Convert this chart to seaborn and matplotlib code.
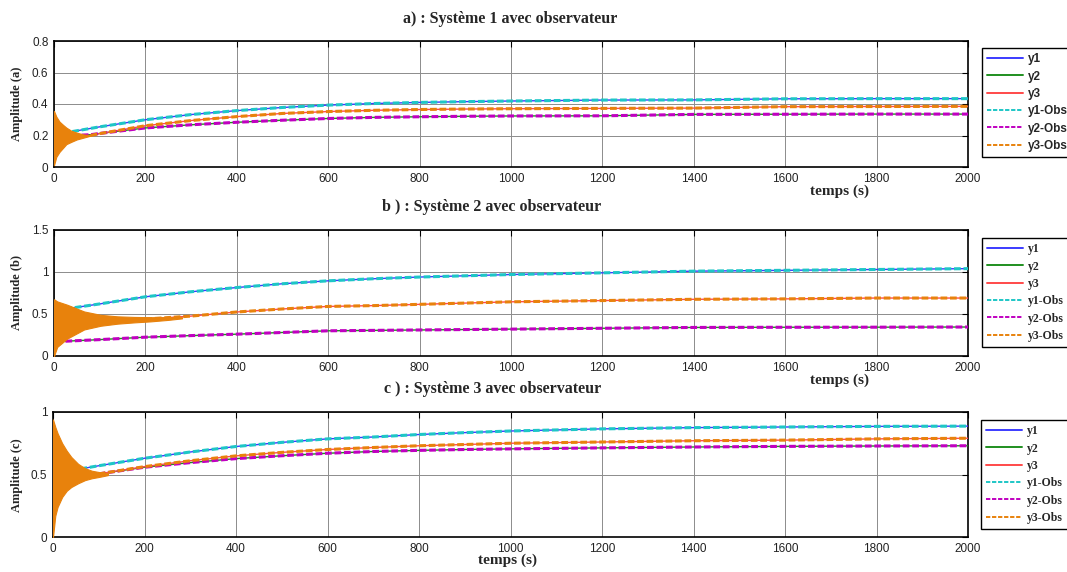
import numpy as np
import pandas as pd
import matplotlib
matplotlib.use("Agg")
import matplotlib.pyplot as plt
from matplotlib.ticker import FuncFormatter
import seaborn as sns

nan = np.nan

# ---------------- data ----------------
series_labels = ["y1", "y2", "y3", "y1-Obs", "y2-Obs", "y3-Obs"]
x_ticks = [0, 200, 400, 600, 800, 1000, 1200, 1400, 1600, 1800, 2000]

# Panel a
t_a = [40, 80, 100, 200, 300, 400, 500, 600, 700, 800, 900, 1000, 1200, 1400, 1600, 1800, 2000]
y1_a = [0.225, 0.245, 0.255, 0.300, 0.333, 0.358, 0.378, 0.393, 0.403, 0.410, 0.415, 0.419, 0.425, 0.426, 0.433, 0.434, 0.434]
y2_a = [0.200, 0.205, 0.213, 0.248, 0.268, 0.284, 0.297, 0.308, 0.315, 0.319, 0.322, 0.324, 0.325, 0.334, 0.335, 0.336, 0.336]
y3_a = [nan, 0.200, 0.212, 0.262, 0.295, 0.320, 0.340, 0.352, 0.360, 0.365, 0.368, 0.370, 0.372, 0.374, 0.383, 0.384, 0.385]
env_t_a = [0, 5, 12, 20, 27, 38, 50, 64, 80]
env_hi_a = [0.356, 0.320, 0.288, 0.267, 0.250, 0.230, 0.218, 0.207, 0.201]
env_lo_a = [0.011, 0.064, 0.096, 0.122, 0.145, 0.160, 0.175, 0.186, 0.199]
yticks_a = [0, 0.2, 0.4, 0.6, 0.8]

# Panel b
t_b = [25, 100, 200, 300, 400, 500, 600, 700, 800, 900, 1000, 1200, 1400, 1600, 1800, 2000]
y1_b = [0.560, 0.620, 0.705, 0.765, 0.815, 0.860, 0.895, 0.920, 0.940, 0.955, 0.970, 0.990, 1.010, 1.020, 1.030, 1.040]
y2_b = [0.176, 0.195, 0.224, 0.243, 0.260, 0.280, 0.300, 0.305, 0.310, 0.315, 0.320, 0.330, 0.340, 0.342, 0.343, 0.345]
y3_b = [nan, nan, 0.440, 0.475, 0.524, 0.560, 0.590, 0.600, 0.615, 0.630, 0.645, 0.660, 0.675, 0.680, 0.690, 0.690]
env_t_b = [0, 7, 29, 66, 102, 139, 175, 211, 250, 280]
env_hi_b = [0.676, 0.650, 0.610, 0.530, 0.490, 0.472, 0.465, 0.462, 0.462, 0.462]
env_lo_b = [0.000, 0.108, 0.208, 0.316, 0.360, 0.385, 0.400, 0.412, 0.430, 0.448]
yticks_b = [0, 0.5, 1, 1.5]

# Panel c
t_c = [60, 100, 200, 300, 400, 500, 600, 700, 800, 900, 1000, 1200, 1400, 1600, 1800, 2000]
y1_c = [0.545, 0.570, 0.630, 0.680, 0.724, 0.757, 0.785, 0.800, 0.820, 0.835, 0.848, 0.865, 0.875, 0.880, 0.885, 0.887]
y2_c = [nan, 0.505, 0.558, 0.595, 0.627, 0.650, 0.670, 0.684, 0.693, 0.700, 0.705, 0.713, 0.720, 0.725, 0.728, 0.730]
y3_c = [nan, 0.505, 0.563, 0.610, 0.649, 0.677, 0.700, 0.716, 0.730, 0.740, 0.750, 0.760, 0.770, 0.775, 0.785, 0.790]
env_t_c = [0, 5, 10, 20, 30, 40, 55, 70, 85, 100, 120]
env_hi_c = [0.940, 0.880, 0.830, 0.750, 0.690, 0.640, 0.585, 0.550, 0.530, 0.520, 0.510]
env_lo_c = [0.000, 0.170, 0.240, 0.320, 0.370, 0.400, 0.430, 0.455, 0.470, 0.480, 0.495]
yticks_c = [0, 0.5, 1]

titles = ["a) : Système 1 avec observateur",
          "b ) : Système 2 avec observateur",
          "c ) : Système 3 avec observateur"]
ylabels = ["Amplitude (a)", "Amplitude (b)", "Amplitude (c)"]
xlabel_text = "temps (s)"

# ---------------- style ----------------
sns.set_style("white")
plt.rcParams["font.family"] = ["Liberation Sans", "DejaVu Sans"]
SERIF = ["Liberation Serif", "DejaVu Serif"]

colors = ["#3b3bff", "#1f8f1f", "#ff4a4a", "#1ec6c6", "#c000c0", "#e8820c"]

W, H = 1067, 572
fig = plt.figure(figsize=(W / 100, H / 100), dpi=100)

panels = [
    dict(t=t_a, ys=[y1_a, y2_a, y3_a], et=env_t_a, eh=env_hi_a, el=env_lo_a,
         yt=yticks_a, box=(54, 41, 968, 167), title_xy=(510, 19), ylab_y=104,
         xlab_xy=(839, 191), leg=(982, 48), legfont=["Liberation Sans", "DejaVu Sans"]),
    dict(t=t_b, ys=[y1_b, y2_b, y3_b], et=env_t_b, eh=env_hi_b, el=env_lo_b,
         yt=yticks_b, box=(54, 230, 968, 356), title_xy=(492, 207), ylab_y=293,
         xlab_xy=(840, 380), leg=(982, 238), legfont=SERIF),
    dict(t=t_c, ys=[y1_c, y2_c, y3_c], et=env_t_c, eh=env_hi_c, el=env_lo_c,
         yt=yticks_c, box=(53, 412, 968, 537), title_xy=(493, 389), ylab_y=475,
         xlab_xy=(508, 560), leg=(981, 420), legfont=SERIF),
]

for i, p in enumerate(panels):
    x0, y0, x1, y1 = p["box"]
    ax = fig.add_axes([x0 / W, 1 - y1 / H, (x1 - x0) / W, (y1 - y0) / H])
    df = pd.DataFrame({"t": p["t"], "y1": p["ys"][0], "y2": p["ys"][1], "y3": p["ys"][2]})

    # true outputs (solid)
    for k, col in enumerate(["y1", "y2", "y3"]):
        sns.lineplot(data=df, x="t", y=col, ax=ax, color=colors[k], lw=1.0,
                     label=series_labels[k], legend=False, zorder=3)
    # observer outputs (dashed)
    for k, col in enumerate(["y1", "y2", "y3"]):
        sns.lineplot(data=df, x="t", y=col, ax=ax, color=colors[3 + k], lw=2.2,
                     linestyle=(0, (2.2, 0.9)), label=series_labels[3 + k],
                     legend=False, zorder=4)
    # oscillating start of y3-Obs (envelope)
    ax.fill_between(p["et"], p["el"], p["eh"], color=colors[5], lw=0.8, zorder=5)

    ax.set_xlim(0, 2000)
    ax.set_ylim(p["yt"][0], p["yt"][-1])
    ax.set_xticks(x_ticks)
    ax.set_yticks(p["yt"])
    ax.yaxis.set_major_formatter(FuncFormatter(lambda v, pos: "%g" % v))
    ax.set_xlabel("")
    ax.set_ylabel("")
    ax.grid(True, color="0.55", lw=0.7)
    ax.tick_params(direction="in", top=True, right=True, length=4, width=0.8,
                   labelsize=8.5, pad=4, colors="black", labelcolor="#222222")
    for s in ax.spines.values():
        s.set_color("black")
        s.set_linewidth(1.2)
        s.set_visible(True)

    leg = ax.legend(loc="upper left", bbox_to_anchor=(p["leg"][0] / W, 1 - p["leg"][1] / H),
                    bbox_transform=fig.transFigure, borderaxespad=0, frameon=True,
                    fancybox=False, edgecolor="black", framealpha=1,
                    prop=dict(family=p["legfont"], weight="bold", size=8.5),
                    handlelength=3.0, handletextpad=0.4, labelspacing=0.45,
                    borderpad=0.45)
    leg.get_frame().set_linewidth(1.0)
    for h in leg.get_lines():
        h.set_linewidth(1.4)

    fig.text(p["title_xy"][0] / W, 1 - p["title_xy"][1] / H, titles[i],
             ha="center", va="center", family=SERIF, weight="bold", fontsize=11.5)
    fig.text(17 / W, 1 - p["ylab_y"] / H, ylabels[i], rotation=90,
             ha="center", va="center", family=SERIF, weight="bold", fontsize=9)
    fig.text(p["xlab_xy"][0] / W, 1 - p["xlab_xy"][1] / H, xlabel_text,
             ha="center", va="center", family=SERIF, weight="bold", fontsize=11)

fig.savefig("out.png", dpi=100, facecolor="white")
